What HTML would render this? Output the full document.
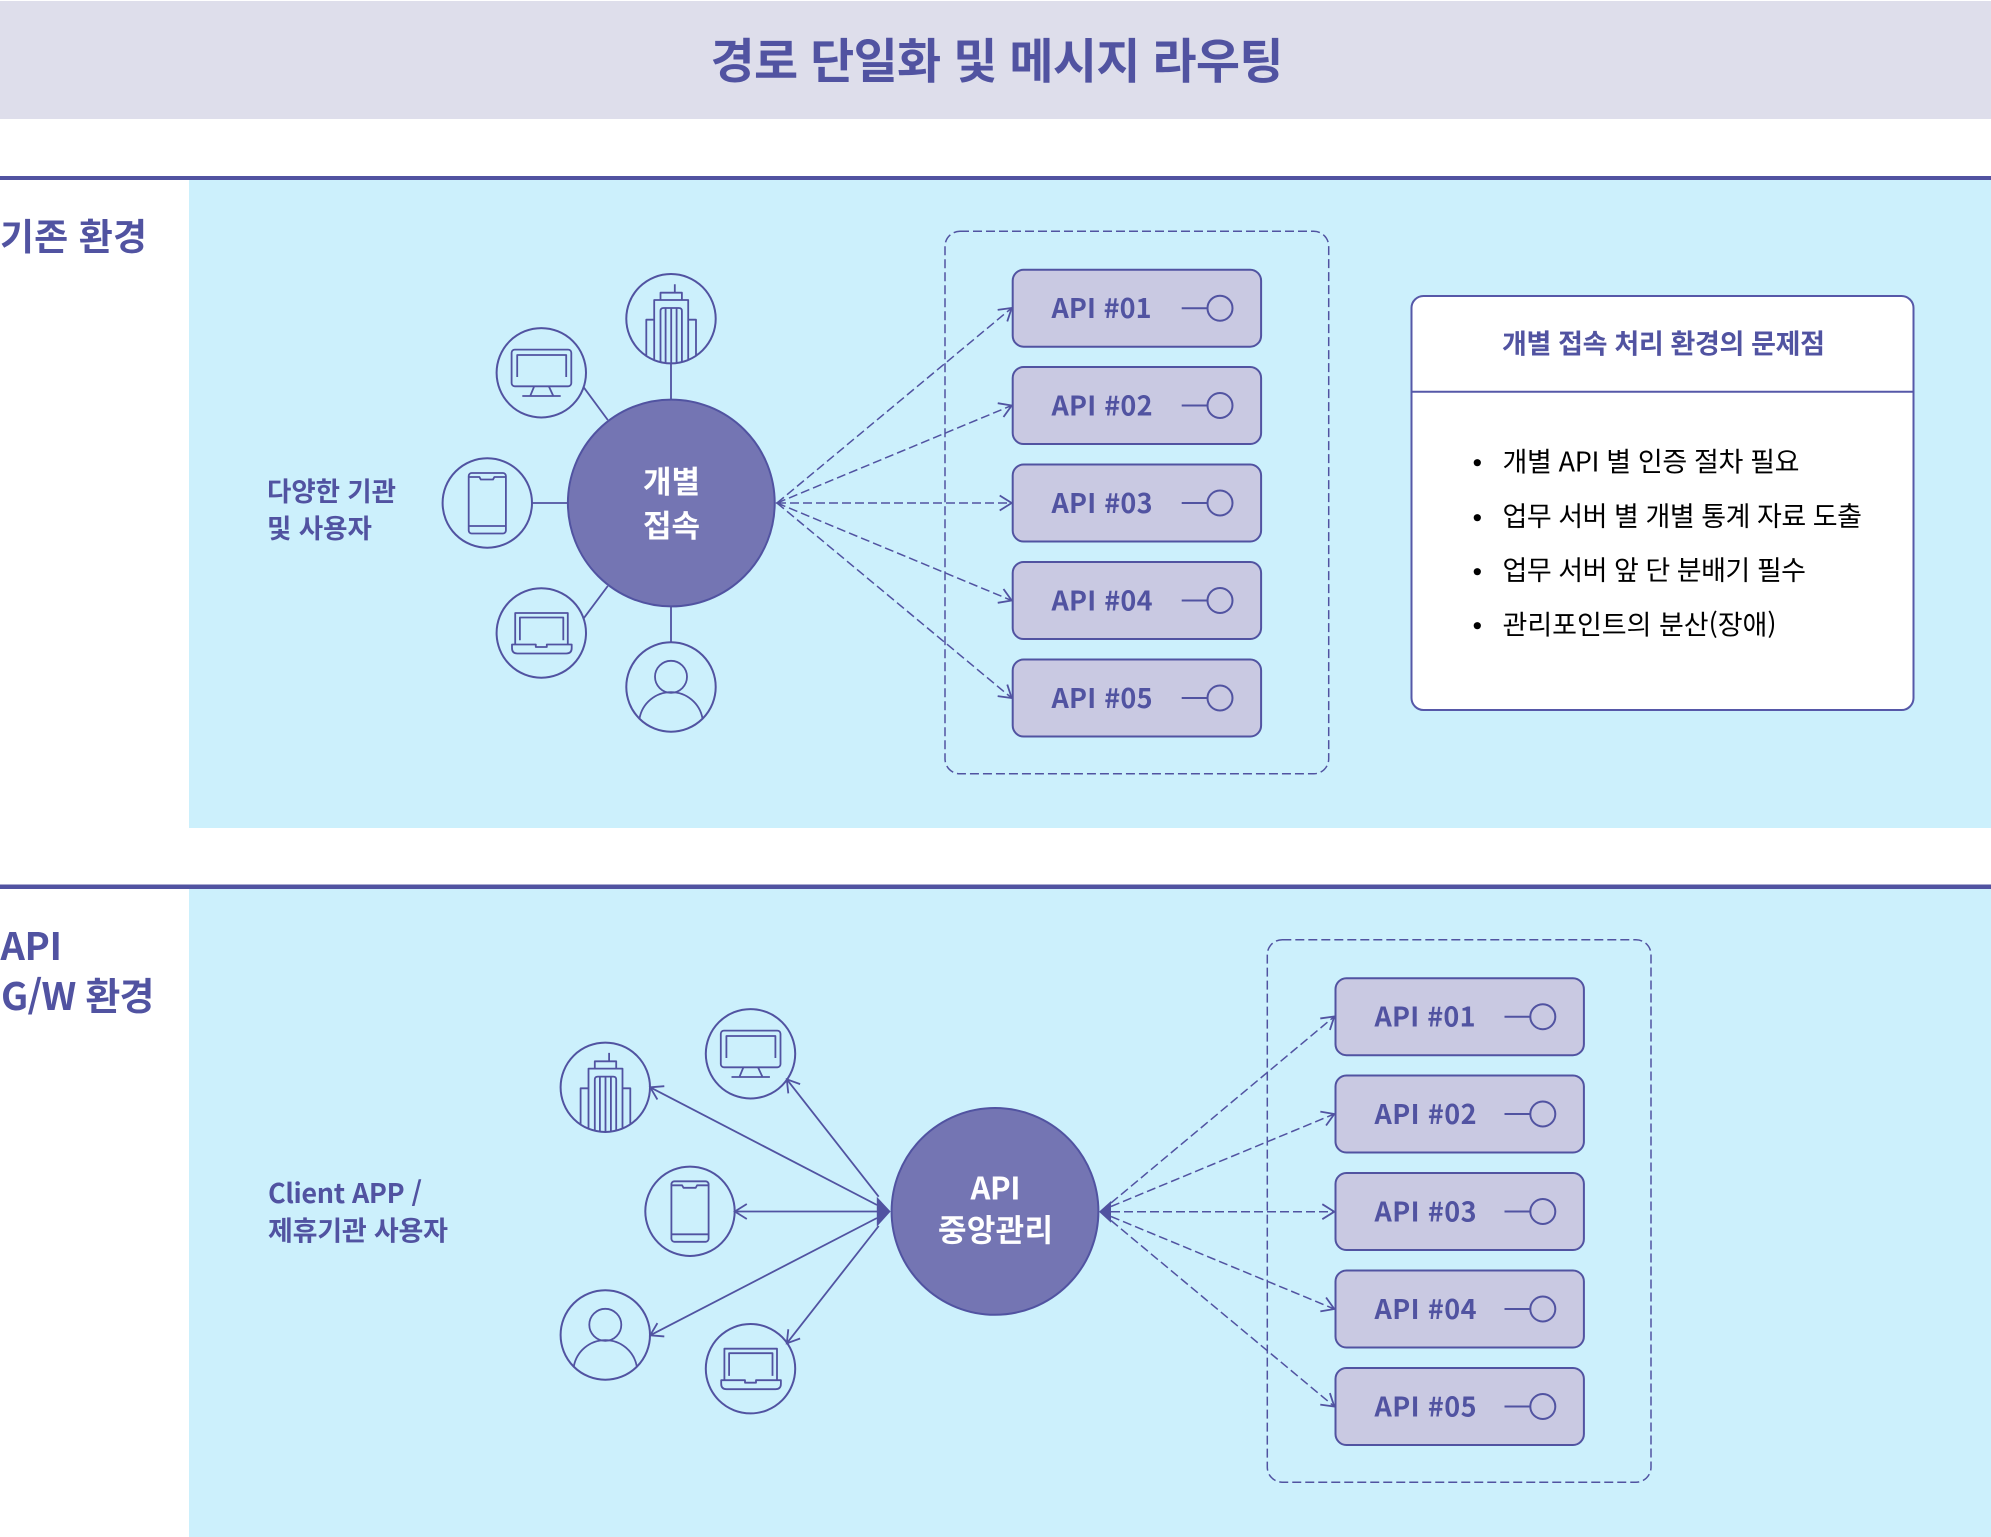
<!DOCTYPE html>
<html lang="ko"><head><meta charset="utf-8"><title>경로 단일화 및 메시지 라우팅</title>
<style>
html,body{margin:0;padding:0;background:#fff}
svg{display:block}
text{font-family:"Noto Sans CJK KR","Liberation Sans",sans-serif;fill:#5153a1}
.b{font-weight:700}
.w{fill:#fff;font-weight:700;font-size:31px;text-anchor:middle}
.l{fill:#000;font-size:27px}
.api{font-size:27px;font-weight:700}
.s{fill:none;stroke:#5153a1;stroke-width:1.8;stroke-linejoin:round}
.d{fill:none;stroke:#5153a1;stroke-width:1.5;stroke-dasharray:9 4}
.c{fill:none;stroke:#5153a1;stroke-width:1.8}
</style></head><body>
<svg xmlns="http://www.w3.org/2000/svg" width="1991" height="1537" viewBox="0 0 1991 1537">
<defs>
<marker id="a" markerUnits="userSpaceOnUse" markerWidth="30" markerHeight="30" refX="15" refY="15" orient="auto" overflow="visible"><path d="M3,7.5 L15,15 L3,22.5" fill="none" stroke="#5153a1" stroke-width="1.8" stroke-dasharray="none"/></marker>
<clipPath id="cc"><circle r="44"/></clipPath>
<g id="ring"><circle r="44.7" fill="none" stroke="#5153a1" stroke-width="2"/></g>
<g id="building"><use href="#ring"/><g class="s" clip-path="url(#cc)">
<path d="M3.8,-34.4V-26M-10.5,-18.7V-26H10.9V-18.7M-16.8,46V-18.7H17.2V46M-16.8,1H-24.7V46M17.2,1H25V46"/>
<path d="M-10.5,46V-7.7Q-10.5,-10.7 -7.5,-10.7H7.9Q10.9,-10.7 10.9,-7.7V46M-5.4,46V-10.7M0.2,46V-10.7M5.6,46V-10.7"/></g></g>
<g id="monitor"><use href="#ring"/><g class="s"><rect x="-29.7" y="-23.2" width="59.7" height="36.7" rx="3.2"/>
<path d="M-24.1,4.2V-17.8H24.9V4.2M-7.1,13.5L-11,23M7.5,13.5L11.9,23M-19,23.2H19.4"/></g></g>
<g id="phone"><use href="#ring"/><g class="s"><rect x="-18.6" y="-30" width="37.2" height="60.5" rx="3"/>
<path d="M-18.6,-26H-7.9L-6.5,-23.5H5.7L7.1,-26H18.6M-18.6,23H18.6"/></g></g>
<g id="laptop"><use href="#ring"/><g class="s"><path d="M-26.1,11.5V-20H26.5V11.5M-21.4,7.2V-15.5H22V7.2"/>
<path d="M-29.3,11.5H-5.5V14H5.5V11.5H30.4V15Q30.4,20.5 25,20.5H-24Q-29.3,20.5 -29.3,15Z"/></g></g>
<g id="person"><use href="#ring"/><g class="s"><circle cy="-10.2" r="16"/><path d="M-31.5,31.5A32,32 0 0 1 31.5,31.5"/></g></g>
<g id="box"><rect x="0" y="0" width="248.4" height="77" rx="11" fill="#c9c9e2" stroke="#5153a1" stroke-width="2"/>
<path d="M169,38.5H194.6" fill="none" stroke="#5153a1" stroke-width="2"/><circle cx="207.3" cy="38.5" r="12.5" fill="none" stroke="#5153a1" stroke-width="2"/></g>
</defs>

<rect x="0" y="1" width="1991" height="118" fill="#dedeeb"/>
<text class="b" x="997" y="78" font-size="48" text-anchor="middle" textLength="573">경로 단일화 및 메시지 라우팅</text>

<rect x="0" y="176" width="1991" height="4" fill="#5153a1"/>
<rect x="189" y="180" width="1802" height="648" fill="#ccf0fc"/>
<rect x="0" y="884.5" width="1991" height="4.5" fill="#5153a1"/>
<rect x="189" y="889" width="1802" height="648" fill="#ccf0fc"/>

<text class="b" x="0" y="250" font-size="37" textLength="147">기존 환경</text>
<text class="b" x="0.5" y="960" font-size="38" textLength="61.5">API</text>
<text class="b" x="1" y="1010" font-size="38" textLength="153.5">G/W 환경</text>

<text class="b" x="267" y="501" font-size="26.5" textLength="129">다양한 기관</text>
<text class="b" x="267" y="538" font-size="26.5">및 사용자</text>
<text class="b" x="268" y="1203" font-size="27" textLength="154">Client APP /</text>
<text class="b" x="268" y="1240.5" font-size="27" textLength="180">제휴기관 사용자</text>

<!-- section 1 spokes -->
<path class="c" d="M671,363V399M583.7,387.3L607.8,420M532,503H567.5M583.7,618.3L607.8,586M671,606.7V642.7"/>
<circle cx="671.3" cy="503" r="103.4" fill="#7475b3" stroke="#5153a1" stroke-width="2"/>
<text class="w" x="671.5" y="493" textLength="57">개별</text>
<text class="w" x="671.5" y="537" textLength="57">접속</text>
<use href="#building" transform="translate(671,318.7)"/>
<use href="#monitor" transform="translate(541.3,372.8)"/>
<use href="#phone" transform="translate(487.3,503)"/>
<use href="#laptop" transform="translate(541.3,633)"/>
<use href="#person" transform="translate(671,687)"/>

<rect class="d" x="945" y="231.3" width="383.7" height="542.5" rx="15" stroke-width="1.4"/>
<g class="d">
<path d="M777,503L1011.7,308" marker-end="url(#a)"/>
<path d="M777,503L1011.7,405.5" marker-end="url(#a)"/>
<path d="M777,503H1011.7" marker-end="url(#a)"/>
<path d="M777,503L1011.7,600.5" marker-end="url(#a)"/>
<path d="M777,503L1011.7,698" marker-end="url(#a)"/>
</g>
<path d="M775,503L781,500V506Z" fill="#5153a1"/>
<use href="#box" x="1012.7" y="269.7"/><use href="#box" x="1012.7" y="367"/><use href="#box" x="1012.7" y="464.5"/><use href="#box" x="1012.7" y="562"/><use href="#box" x="1012.7" y="659.5"/>
<text class="api" x="1051.5" y="318" textLength="100">API #01</text>
<text class="api" x="1051.5" y="415.5" textLength="101">API #02</text>
<text class="api" x="1051.5" y="513" textLength="101">API #03</text>
<text class="api" x="1051.5" y="610.5" textLength="101">API #04</text>
<text class="api" x="1051.5" y="708" textLength="101">API #05</text>

<!-- problem box -->
<rect x="1411.5" y="296" width="502" height="414" rx="12" fill="#fff" stroke="#5658a8" stroke-width="2"/>
<path d="M1411.5,391.7H1913.5" stroke="#5658a8" stroke-width="2"/>
<text class="b" x="1502" y="353.5" font-size="27" textLength="323">개별 접속 처리 환경의 문제점</text>
<g fill="#000"><circle cx="1477.3" cy="462.7" r="3.6"/><circle cx="1477.3" cy="517.7" r="3.6"/><circle cx="1477.3" cy="571.7" r="3.6"/><circle cx="1477.3" cy="625.7" r="3.6"/></g>
<text class="l" x="1502.5" y="471.3" textLength="297">개별 API 별 인증 절차 필요</text>
<text class="l" x="1502.5" y="525.8" textLength="359.5">업무 서버 별 개별 통계 자료 도출</text>
<text class="l" x="1502.5" y="579.8" textLength="303.5">업무 서버 앞 단 분배기 필수</text>
<text class="l" x="1502.5" y="634.3" textLength="274">관리포인트의 분산(장애)</text>

<!-- section 2 -->
<g class="c">
<path d="M877,1205L650.2,1087.3" marker-end="url(#a)"/>
<path d="M878.7,1196.7L786.8,1079.3" marker-end="url(#a)"/>
<path d="M880,1211.5H734.8" marker-end="url(#a)"/>
<path d="M877,1218L650.2,1335.3" marker-end="url(#a)"/>
<path d="M878.7,1226L786.8,1343.3" marker-end="url(#a)"/>
</g>
<use href="#building" transform="translate(605.3,1087.3)"/>
<use href="#monitor" transform="translate(750.5,1053.8)"/>
<use href="#phone" transform="translate(690,1211.3)"/>
<use href="#person" transform="translate(605.3,1335)"/>
<use href="#laptop" transform="translate(750.5,1368.7)"/>
<circle cx="995" cy="1211.4" r="103.4" fill="#7475b3" stroke="#5153a1" stroke-width="2"/>
<text class="w" x="995.5" y="1199.5" textLength="50">API</text>
<text class="w" x="995.5" y="1241.5" textLength="115">중앙관리</text>
<path d="M876.8,1196.7L890.6,1211.5L876.8,1226.7Z" fill="#5153a1"/>
<path d="M1111,1201L1099,1211.7L1111,1222.7Z" fill="#5153a1"/>

<rect class="d" x="1267.3" y="939.7" width="383.7" height="542.5" rx="15" stroke-width="1.4"/>
<g class="d">
<path d="M1111,1203L1334.3,1016.5" marker-end="url(#a)"/>
<path d="M1111,1206.5L1334.3,1114" marker-end="url(#a)"/>
<path d="M1111,1211.7H1334.3" marker-end="url(#a)"/>
<path d="M1111,1216.5L1334.3,1309" marker-end="url(#a)"/>
<path d="M1111,1220.5L1334.3,1406.5" marker-end="url(#a)"/>
</g>
<use href="#box" x="1335.5" y="978.2"/><use href="#box" x="1335.5" y="1075.5"/><use href="#box" x="1335.5" y="1173"/><use href="#box" x="1335.5" y="1270.5"/><use href="#box" x="1335.5" y="1368"/>
<text class="api" x="1374.5" y="1026.5" textLength="101">API #01</text>
<text class="api" x="1374.5" y="1124" textLength="102">API #02</text>
<text class="api" x="1374.5" y="1221.5" textLength="102">API #03</text>
<text class="api" x="1374.5" y="1319" textLength="102">API #04</text>
<text class="api" x="1374.5" y="1416.5" textLength="102">API #05</text>
</svg>
</body></html>
